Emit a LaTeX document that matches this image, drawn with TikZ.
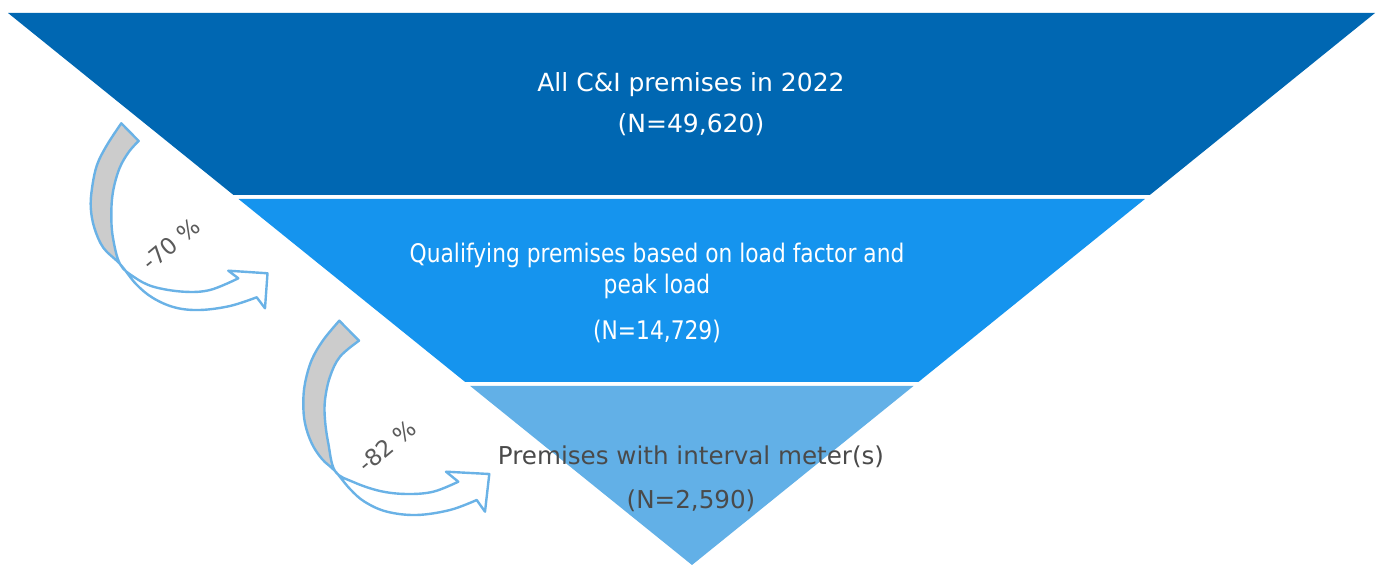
\documentclass[tikz,border=0pt]{standalone}
\usepackage{fontspec}
\setmainfont{DejaVu Sans}
\newfontfamily\narrowsans[FakeStretch=0.85]{DejaVu Sans}
\definecolor{bandA}{HTML}{0067B2}
\definecolor{bandB}{HTML}{1594EE}
\definecolor{bandC}{HTML}{62B0E7}
\definecolor{arrowline}{HTML}{6AB2E6}
\definecolor{arrowgray}{HTML}{CCCCCC}
\definecolor{darktext}{HTML}{4A4A4A}
\definecolor{pcttext}{HTML}{5A5A5A}
\begin{document}
\begin{tikzpicture}[x=0.5pt,y=-0.5pt,
  maintext/.style={inner sep=0pt, anchor=base, font=\fontsize{12.5pt}{15pt}\selectfont},
  lighttext/.style={maintext, text=white},
  smalltext/.style={lighttext, font=\narrowsans\fontsize{12.8pt}{15pt}\selectfont},
  graytext/.style={maintext, text=darktext, font=\fontsize{12.3pt}{15pt}\selectfont},
  pct/.style={inner sep=0pt, text=pcttext, font=\fontsize{11.5pt}{13pt}\selectfont, rotate=40},
  arrowline/.style={draw=arrowline, line width=1.2pt, line join=round},
  sm/.style={smooth, tension=0.6}]
\useasboundingbox (0,0) rectangle (1380,565);
% funnel bands
\fill[bandA] (8,13) -- (1375,13) -- (1149.8,195) -- (233.5,195) -- cycle;
\fill[bandB] (238.5,199) -- (1144.9,199) -- (918.4,382) -- (465.2,382) -- cycle;
\fill[bandC] (470.2,386) -- (913.5,386) -- (692,565) -- cycle;
% texts
\node[lighttext] (t1a) at (691,91.7) {All C\&I premises in 2022};
\node[lighttext] (t1b) at (691,132.7) {(N=49,620)};
\node[smalltext] (t2a) at (657,262.3) {Qualifying premises based on load factor and};
\node[smalltext] (t2b) at (657,294) {peak load};
\node[smalltext] (t2c) at (657,339.3) {(N=14,729)};
\node[graytext] (t3a) at (691,464.3) {Premises with interval meter(s)};
\node[graytext] (t3b) at (691,508.3) {(N=2,590)};
% curved arrow 1
\def\arrowone{(121.3,123.3) -- plot[sm] coordinates {(121.3,123.3) (107,145) (97,165) (92,188.3) (90.8,208.3) (94.5,228.3) (103.5,248) (120,264) (136,284) (153,298) (175,307.5) (200,310) (230,306) (256.7,297.3)}
  -- (265,308.3) -- (267.5,273.3) -- (228.3,270.7) -- (238.3,278.3)
  -- plot[sm] coordinates {(238.3,278.3) (210,290) (183.3,291.7) (153.3,286.7) (134,277) (120,264) (113,238) (111.3,215) (113,191.7) (119.5,168.3) (129,151.7) (138.7,141)} -- cycle}
\fill[white] \arrowone;
\begin{scope}
  \clip (60,100) rectangle (145,264);
  \fill[arrowgray] \arrowone;
\end{scope}
\path[arrowline] \arrowone;
% curved arrow 2
\def\arrowtwo{(339.3,320.7) -- plot[sm] coordinates {(339.3,320.7) (323.3,340) (311.7,360) (305,383.3) (303.3,403.3) (305,423.3) (311.7,443.3) (322,459) (335,471) (350,489) (365,502) (387,511.7) (416.7,515) (450,510) (476.7,500)}
  -- (485,511.7) -- (489.3,474) -- (446,471.7) -- (458.3,481.7)
  -- plot[sm] coordinates {(458.3,481.7) (433.3,491.7) (406.7,494) (380,491) (353.3,482) (335,471) (328.3,443.3) (325,420) (325,400) (330,376.7) (340,356.7) (359,340.7)} -- cycle}
\fill[white] \arrowtwo;
\begin{scope}
  \clip (280,300) rectangle (362,471);
  \fill[arrowgray] \arrowtwo;
\end{scope}
\path[arrowline] \arrowtwo;
% percentages
\node[pct] (p1) at (171,244) {-70 \%};
\node[pct] (p2) at (387,446) {-82 \%};
\end{tikzpicture}
\end{document}
